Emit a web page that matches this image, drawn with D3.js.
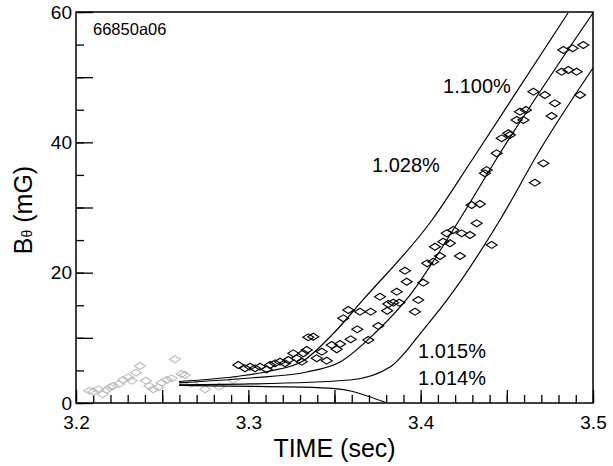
<!DOCTYPE html>
<html><head><meta charset="utf-8">
<script src="https://cdn.jsdelivr.net/npm/d3@7"></script>
<style>
body{margin:0;background:#fff;}
svg{display:block;font-family:"Liberation Sans",Arial,sans-serif;}
</style></head>
<body><svg id="c" width="613" height="466"></svg>
<script>
// ---- data ----
const xDomain = [3.2, 3.5];
const yDomain = [0, 60];
const xTickLabels = [3.2, 3.3, 3.4, 3.5];
const yTickLabels = [0, 20, 40, 60];
const chartId = "66850a06";

const curve1100 = [[3.2598,3.30],[3.2952,4.14],[3.3126,4.91],[3.3317,6.45],[3.3491,10.6],[3.3665,15.81],[3.4066,28.08],[3.4298,37.29],[3.4855,59.85]];
const curve1028 = [[3.2598,3.10],[3.301,3.84],[3.334,4.76],[3.3532,6.29],[3.3735,10.74],[3.3938,16.57],[3.4188,26.55],[3.4472,38.82],[3.5,59.85]];
const curve1015 = [[3.2598,2.80],[3.301,2.92],[3.359,3.53],[3.3822,5.52],[3.4014,11.20],[3.4153,15.81],[3.446,28.08],[3.4692,38.82],[3.5,51.4]];
const curve1014 = [[3.2598,2.70],[3.301,2.55],[3.33,2.45],[3.35,2.2],[3.36,1.8],[3.37,1.0],[3.3805,0]];
const curveLabels = ["1.100%","1.028%","1.015%","1.014%"];
const labelX = [3.4130, 3.3718, 3.3985, 3.3985];
const labelY = [47.6, 35.4, 6.9, 2.8];

const grayPoints = [[3.2077,1.89],[3.2100,1.73],[3.2129,2.10],[3.2155,1.34],[3.2178,1.99],[3.2197,2.41],[3.2216,2.61],[3.2251,2.92],[3.2274,3.53],[3.2303,3.94],[3.2323,3.42],[3.2348,4.65],[3.2371,5.68],[3.2406,3.42],[3.2425,2.61],[3.2449,2.10],[3.2478,2.41],[3.2497,3.12],[3.2526,3.53],[3.2555,3.79],[3.2574,6.71],[3.2613,4.45],[3.2632,4.30],[3.2671,3.02],[3.2749,2.10],[3.2832,2.50],[3.2913,3.53]];

const blackPoints = [[3.2942,5.83],[3.2981,5.32],[3.3010,5.57],[3.3039,5.32],[3.3068,5.57],[3.3107,5.17],[3.3126,5.83],[3.3155,6.09],[3.3184,6.34],[3.3213,6.09],[3.3232,6.60],[3.3261,7.63],[3.3281,6.86],[3.3310,6.34],[3.3319,7.63],[3.3339,8.13],[3.3348,10.08],
[3.3377,10.17],[3.3397,6.86],[3.3426,7.87],[3.3455,6.49],[3.3484,8.90],[3.3513,8.24],[3.3532,9.05],[3.3551,13.0],[3.3580,14.27],[3.3594,9.77],[3.3632,11.31],[3.3648,14.01],[3.3696,9.67],[3.3710,14.01],[3.3754,11.82],[3.3764,16.31],[3.3806,14.16],[3.3812,15.19],[3.3841,15.39],[3.3876,15.39],[3.3861,17.08],[3.3967,14.01],[3.3986,15.81],[3.3919,18.61],[3.3909,20.30],[3.4015,18.46],[3.4038,21.44],[3.4073,21.68],[3.4112,22.56],[3.4083,23.98],[3.4131,24.75],[3.4151,26.04],[3.4189,26.55],[3.4238,26.04],[3.4286,25.78],[3.4170,24.51],[3.4228,22.56],[3.4412,24.25],[3.4296,30.38],[3.4344,30.54],[3.4325,27.57],[3.4383,35.75],[3.4373,35.25],[3.4441,38.32],[3.4470,40.62],[3.4509,41.39],[3.4518,41.12],[3.4557,43.43],[3.4596,43.43],[3.4576,44.70],[3.4611,44.96],[3.4760,44.04],[3.4779,45.99],[3.4721,47.26],[3.4654,47.77],[3.4925,47.26],[3.4712,36.78],[3.4663,33.81],[3.4818,50.84],[3.4857,51.10],[3.4905,50.84],[3.4828,54.17],[3.4882,54.43],[3.4944,54.94]];

// ---- layout ----
const L = 76, R = 593, T = 12, B = 403;
const svg = d3.select("#c");
const x = d3.scaleLinear().domain(xDomain).range([L, R]);
const y = d3.scaleLinear().domain(yDomain).range([B, T]);

svg.append("defs").append("clipPath").attr("id","clip")
  .append("rect").attr("x",L).attr("y",T).attr("width",R-L).attr("height",B-T);

const fmtX = d => xTickLabels.some(v => Math.abs(v-d) < 1e-9) ? d3.format(".1f")(d) : "";
const fmtY = d => yTickLabels.includes(d) ? String(d) : "";

// minor x ticks
svg.append("g").attr("transform",`translate(0,${B})`)
  .call(d3.axisBottom(x).tickValues(d3.range(0,31).map(i=>3.2+i*0.01)).tickSizeInner(-8).tickSizeOuter(0).tickFormat(""))
  .call(g=>g.select(".domain").remove());
// major x ticks
svg.append("g").attr("class","xa").attr("transform",`translate(0,${B})`)
  .call(d3.axisBottom(x).tickValues(d3.range(0,7).map(i=>3.2+i*0.05)).tickSizeInner(-13).tickSizeOuter(0).tickPadding(13).tickFormat(fmtX))
  .call(g=>g.select(".domain").remove());
// minor y ticks
svg.append("g").attr("transform",`translate(${L},0)`)
  .call(d3.axisLeft(y).tickValues(d3.range(0,61,5)).tickSizeInner(-8).tickSizeOuter(0).tickFormat(""))
  .call(g=>g.select(".domain").remove());
// major y ticks
svg.append("g").attr("class","ya").attr("transform",`translate(${L},0)`)
  .call(d3.axisLeft(y).tickValues(d3.range(0,61,10)).tickSizeInner(-17).tickSizeOuter(0).tickPadding(4).tickFormat(fmtY))
  .call(g=>g.select(".domain").remove());

svg.selectAll(".tick line").attr("stroke","#000").attr("stroke-width",1.3);
svg.selectAll(".xa text,.ya text").attr("font-size",19).attr("font-family","Liberation Sans,Arial,sans-serif").attr("fill","#000");

// frame
svg.append("rect").attr("x",L).attr("y",T).attr("width",R-L).attr("height",B-T)
  .attr("fill","none").attr("stroke","#000").attr("stroke-width",1.5);

// diamonds
const diamond = d => {const cx=x(d[0]), cy=y(d[1]); return `M${cx-5.5},${cy}L${cx},${cy-3.5}L${cx+5.5},${cy}L${cx},${cy+3.5}Z`;};
const pg = svg.append("g").attr("clip-path","url(#clip)");
pg.selectAll(".g").data(grayPoints).join("path").attr("d",diamond)
  .attr("fill","none").attr("stroke","#bdbdbd").attr("stroke-width",1.1);
pg.selectAll(".b").data(blackPoints).join("path").attr("d",diamond)
  .attr("fill","none").attr("stroke","#000").attr("stroke-width",1.1);

// model curves
const line = d3.line().x(d=>x(d[0])).y(d=>y(d[1])).curve(d3.curveMonotoneX);
const cg = svg.append("g").attr("clip-path","url(#clip)");
[curve1100, curve1028, curve1015, curve1014].forEach(c=>{
  cg.append("path").attr("d",line(c)).attr("fill","none").attr("stroke","#000").attr("stroke-width",1.2);
});

// curve labels
curveLabels.forEach((t,i)=>{
  svg.append("text").attr("x",x(labelX[i])).attr("y",y(labelY[i]))
    .attr("font-size",20).attr("fill","#000").text(t);
});

// id label
svg.append("text").attr("x",93).attr("y",35).attr("font-size",16.5).text(chartId);

// axis titles
svg.append("text").attr("x",(L+R)/2).attr("y",457).attr("text-anchor","middle")
  .attr("font-size",25).text("TIME (sec)");
const yt = svg.append("text").attr("transform","translate(32,210) rotate(-90)")
  .attr("text-anchor","middle").attr("font-size",25);
yt.append("tspan").text("B");
yt.append("tspan").attr("font-size",14).text("θ");
yt.append("tspan").text(" (mG)");
</script></body></html>
